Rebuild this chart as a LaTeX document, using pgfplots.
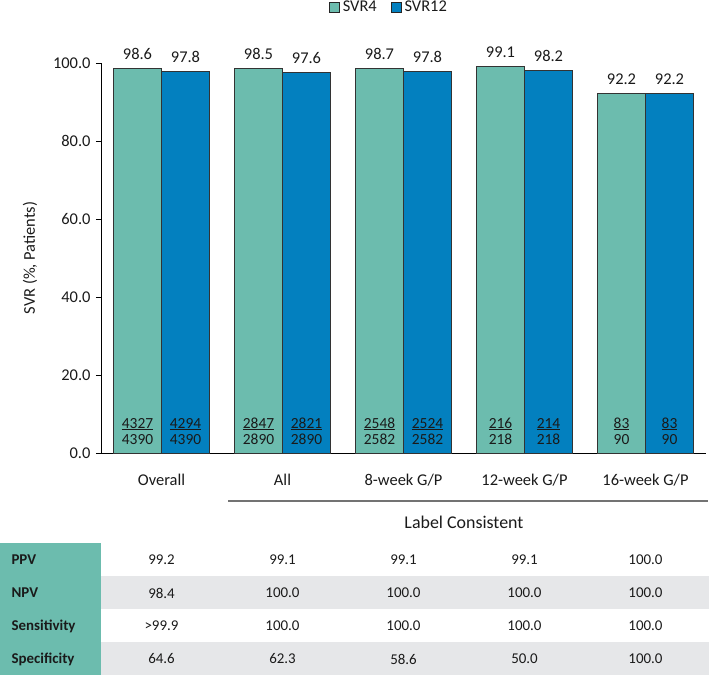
\documentclass[border=0pt]{standalone}
\usepackage{pgfplots}
\pgfplotsset{compat=1.18}
\usepackage{fontspec}
\setmainfont{Carlito}
\definecolor{teal4}{HTML}{6CBCAE}
\definecolor{blue12}{HTML}{0380BF}
\definecolor{rowgrey}{HTML}{E6E7E9}
\definecolor{txt}{HTML}{1A1A1A}
\newcommand{\fa}{\fontsize{16.5}{19}\selectfont}
\newcommand{\fc}{\fontsize{15.5}{18}\selectfont}
\newcommand{\fb}{\fontsize{15}{18}\selectfont}
\begin{document}
\begin{tikzpicture}
\useasboundingbox (-101bp,-222bp) rectangle (608bp,453bp);
% table backgrounds
\fill[teal4] (-101bp,-222bp) rectangle (0bp,-90bp);
\fill[rowgrey] (0bp,-156bp) rectangle (608bp,-123bp);
\fill[rowgrey] (0bp,-222bp) rectangle (608bp,-189bp);
\begin{scope}[every node/.style={anchor=west, font=\fb\bfseries, text=txt}]
\node at (-93bp,-107bp) {PPV};
\node at (-93bp,-140bp) {NPV};
\node at (-93bp,-173bp) {Sensitivity};
\node at (-93bp,-206bp) {Specificity};
\end{scope}
\begin{axis}[
  at={(0,0)}, anchor=south west,
  scale only axis, width=605bp, height=390bp,
  clip=false,
  ybar=0pt, bar width=48bp,
  xmin=-0.5, xmax=4.5, ymin=0, ymax=100,
  axis x line=bottom, axis y line=left,
  axis line style={-, black, line width=0.8bp},
  xtick={0,1,2,3,4},
  xticklabels={Overall, All, 8-week G/P, 12-week G/P, 16-week G/P},
  xtick style={draw=none},
  minor xtick={-0.5,0.5,1.5,2.5,3.5,4.5},
  minor tick length=5bp,
  minor tick style={black, line width=0.8bp},
  ytick={0,20,40,60,80,100},
  major tick length=5bp,
  tick align=outside,
  ytick style={black, line width=0.8bp},
  /pgf/number format/assume math mode=true,
  yticklabel={\pgfmathprintnumber[fixed,zerofill,precision=1]{\tick}},
  yticklabel style={font=\fa, text=txt, anchor=east, xshift=-2bp},
  xticklabel style={font=\fa, text=txt, anchor=base, yshift=-27bp},
  ylabel={SVR (\%, Patients)},
  ylabel style={font=\fa, text=txt, at={(axis description cs:-0.1174,0.5)}, anchor=center},
  nodes near coords={\pgfmathprintnumber[fixed,zerofill,precision=1]{\pgfplotspointmeta}},
  nodes near coords style={font=\fa, text=txt, anchor=center, yshift=14.5bp},
  legend style={at={(rel axis cs:0.476,1.143)}, anchor=center, draw=none, fill=none,
    legend columns=2, font=\fa, text=txt, inner sep=0pt,
    /tikz/every odd column/.append style={column sep=1bp},
    /tikz/every even column/.append style={column sep=12bp}},
  legend image code/.code={\draw[#1, draw=black!85, line width=0.7bp] (0bp,-5bp) rectangle (10bp,5bp);},
]
\addplot[fill=teal4, draw=black!80, line width=0.7bp] coordinates {(0,98.6) (1,98.5) (2,98.7) (3,99.1) (4,92.2)};
\addplot[fill=blue12, draw=black!80, line width=0.7bp] coordinates {(0,97.8) (1,97.6) (2,97.8) (3,98.2) (4,92.2)};
\legend{SVR4, SVR12}
% counts inside bars
\begin{scope}[every node/.style={font=\fc, text=txt, anchor=base}]
\node[xshift=-24bp, yshift=25bp] at (axis cs:0,0) {\underline{4327}};
\node[xshift=-24bp, yshift=9bp] at (axis cs:0,0) {4390};
\node[xshift=24bp, yshift=25bp] at (axis cs:0,0) {\underline{4294}};
\node[xshift=24bp, yshift=9bp] at (axis cs:0,0) {4390};
\node[xshift=-24bp, yshift=25bp] at (axis cs:1,0) {\underline{2847}};
\node[xshift=-24bp, yshift=9bp] at (axis cs:1,0) {2890};
\node[xshift=24bp, yshift=25bp] at (axis cs:1,0) {\underline{2821}};
\node[xshift=24bp, yshift=9bp] at (axis cs:1,0) {2890};
\node[xshift=-24bp, yshift=25bp] at (axis cs:2,0) {\underline{2548}};
\node[xshift=-24bp, yshift=9bp] at (axis cs:2,0) {2582};
\node[xshift=24bp, yshift=25bp] at (axis cs:2,0) {\underline{2524}};
\node[xshift=24bp, yshift=9bp] at (axis cs:2,0) {2582};
\node[xshift=-24bp, yshift=25bp] at (axis cs:3,0) {\underline{216}};
\node[xshift=-24bp, yshift=9bp] at (axis cs:3,0) {218};
\node[xshift=24bp, yshift=25bp] at (axis cs:3,0) {\underline{214}};
\node[xshift=24bp, yshift=9bp] at (axis cs:3,0) {218};
\node[xshift=-24bp, yshift=25bp] at (axis cs:4,0) {\underline{83}};
\node[xshift=-24bp, yshift=9bp] at (axis cs:4,0) {90};
\node[xshift=24bp, yshift=25bp] at (axis cs:4,0) {\underline{83}};
\node[xshift=24bp, yshift=9bp] at (axis cs:4,0) {90};
\end{scope}
% Label Consistent
\draw[black!55, line width=1.2bp] ([yshift=-48bp]axis cs:0.55,0) -- ([yshift=-48bp]axis cs:4.52,0);
\node[font=\fontsize{18}{21}\selectfont, text=txt] at ([yshift=-69bp]axis cs:2.5,0) {Label Consistent};
% table values
\begin{scope}[every node/.style={font=\fb, text=txt, anchor=center}]
\node[yshift=-107bp] at (axis cs:0,0) {99.2};
\node[yshift=-107bp] at (axis cs:1,0) {99.1};
\node[yshift=-107bp] at (axis cs:2,0) {99.1};
\node[yshift=-107bp] at (axis cs:3,0) {99.1};
\node[yshift=-107bp] at (axis cs:4,0) {100.0};
\node[yshift=-140bp] at (axis cs:0,0) {98.4};
\node[yshift=-140bp] at (axis cs:1,0) {100.0};
\node[yshift=-140bp] at (axis cs:2,0) {100.0};
\node[yshift=-140bp] at (axis cs:3,0) {100.0};
\node[yshift=-140bp] at (axis cs:4,0) {100.0};
\node[yshift=-173bp] at (axis cs:0,0) {>99.9};
\node[yshift=-173bp] at (axis cs:1,0) {100.0};
\node[yshift=-173bp] at (axis cs:2,0) {100.0};
\node[yshift=-173bp] at (axis cs:3,0) {100.0};
\node[yshift=-173bp] at (axis cs:4,0) {100.0};
\node[yshift=-206bp] at (axis cs:0,0) {64.6};
\node[yshift=-206bp] at (axis cs:1,0) {62.3};
\node[yshift=-206bp] at (axis cs:2,0) {58.6};
\node[yshift=-206bp] at (axis cs:3,0) {50.0};
\node[yshift=-206bp] at (axis cs:4,0) {100.0};
\end{scope}
\end{axis}
\end{tikzpicture}
\end{document}
